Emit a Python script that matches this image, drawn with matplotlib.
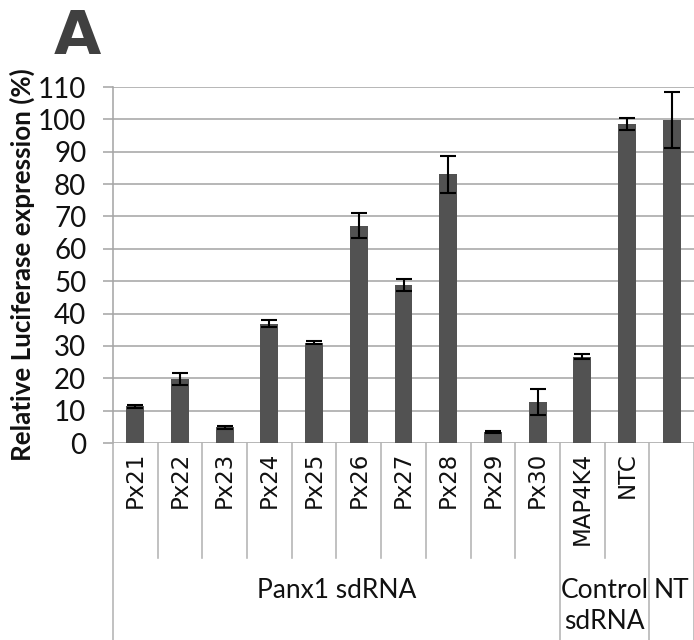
import matplotlib
matplotlib.use("Agg")
import matplotlib.pyplot as plt
from matplotlib.lines import Line2D
import numpy as np

# Luciferase readout per sdRNA (% of untreated) with SD
categories = ["Px21", "Px22", "Px23", "Px24", "Px25", "Px26", "Px27",
              "Px28", "Px29", "Px30", "MAP4K4", "NTC", ""]
values = [11.3, 19.8, 4.8, 36.8, 31.0, 67.2, 48.9, 83.0, 3.3, 12.7, 26.7, 98.5, 99.8]
errors = [0.4, 1.8, 0.4, 1.1, 0.4, 3.8, 1.8, 5.7, 0.3, 4.0, 0.7, 1.9, 8.7]
groups = ["Panx1 sdRNA", "Control\nsdRNA", "NT"]
group_sizes = [10, 2, 1]
yticks = list(range(0, 111, 10))

W, H = 694, 640
fig = plt.figure(figsize=(W / 100, H / 100), dpi=100)
fig.patch.set_facecolor("white")

ax_left, ax_right, ax_top, ax_bottom = 113, 694, 87, 443
ax = fig.add_axes([ax_left / W, 1 - ax_bottom / H,
                   (ax_right - ax_left) / W, (ax_bottom - ax_top) / H])

grid_col = "#a6a6a6"
sep_col = "#b3b3b3"
lw = 1.15
x = np.arange(len(categories))

ax.bar(x, values, width=0.4, color="#525252", zorder=3)
ax.errorbar(x, values, yerr=errors, fmt="none", ecolor="black",
            elinewidth=1.5, capsize=6, capthick=1.5, zorder=4)

ax.set_xlim(-0.5, len(categories) - 0.5)
ax.set_ylim(0, 110)
ax.set_yticks(yticks)
ax.set_yticklabels([str(t) for t in yticks], fontsize=20,
                   family=["Lato", "DejaVu Sans"], color="#111111")
ax.set_xticks([])
ax.yaxis.grid(True, color=grid_col, linewidth=lw, zorder=0)
ax.tick_params(axis="y", length=7.2, width=lw, color=grid_col, pad=12)
for side in ["top", "right", "bottom"]:
    ax.spines[side].set_visible(False)
ax.spines["left"].set_color(grid_col)
ax.spines["left"].set_linewidth(lw)

def fy(px):
    return 1 - px / H

def fx(xd):
    return (ax_left + (xd + 0.5) / len(categories) * (ax_right - ax_left)) / W

# Axis title placed explicitly, in front of everything
fig.text(22 / W, fy(265), "Relative Luciferase expression (%)", rotation=90,
         ha="center", va="center", fontsize=18.7, fontweight="bold",
         family=["Lato", "DejaVu Sans"], color="#111111", zorder=10)

# Category labels under each bar
for xi, lab in zip(x, categories):
    if lab:
        fig.text(fx(xi), fy(452), lab, rotation=90, ha="center", va="top",
                 fontsize=16.5, family="DejaVu Sans", color="#111111")

# Separator lines between categories and between groups
bounds = np.cumsum([0] + group_sizes) - 0.5
for b in np.arange(-0.5, len(categories), 1.0):
    full = np.any(np.isclose(bounds, b))
    y_end = 640 if full else 558
    fig.add_artist(Line2D([fx(b), fx(b)], [fy(ax_bottom), fy(y_end)],
                          color=sep_col, linewidth=lw))

# Group labels
for g, lo, hi in zip(groups, bounds[:-1], bounds[1:]):
    fig.text(fx((lo + hi) / 2), fy(578), g, ha="center", va="top",
             fontsize=19, family=["Lato", "DejaVu Sans"], color="#111111",
             linespacing=1.3)

# Panel letter
fig.text(54 / W, fy(8), "A", ha="left", va="top", fontsize=44,
         fontweight="bold", family="DejaVu Sans", color="#404040")

fig.savefig("out.png", dpi=100, facecolor="white")
